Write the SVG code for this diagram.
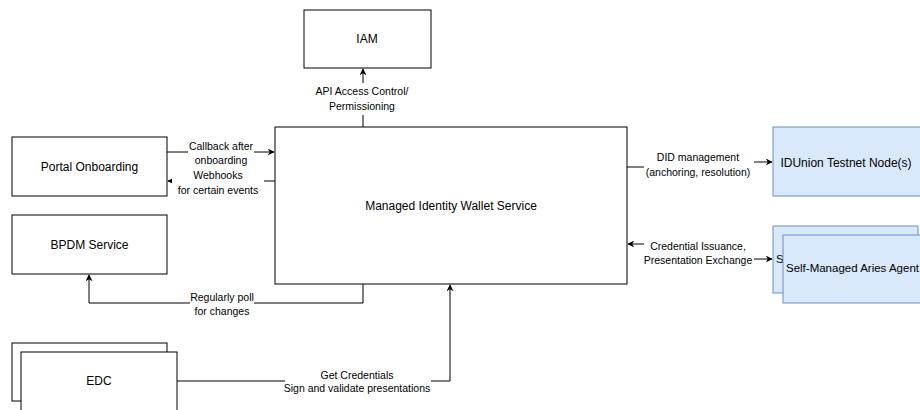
<svg xmlns="http://www.w3.org/2000/svg" width="920" height="410" viewBox="0 0 920 410">
<defs>
<marker id="arr" viewBox="0 0 10 10" refX="9" refY="5" markerWidth="7" markerHeight="7" markerUnits="userSpaceOnUse" orient="auto-start-reverse">
<path d="M0,0 L10,5 L0,10 L3,5 Z" fill="#000"/>
</marker>
<clipPath id="backclip"><rect x="773" y="226" width="10" height="67"/></clipPath>
<style>
.box{fill:#fff;stroke:#000;stroke-width:1}
.blue{fill:#dae8fc;stroke:#6c8ebf;stroke-width:1}
.t{font-family:"Liberation Sans",Arial,sans-serif;font-size:12px;fill:#000;text-anchor:middle;dominant-baseline:central}
.l{font-family:"Liberation Sans",Arial,sans-serif;font-size:10.5px;fill:#000;text-anchor:middle;dominant-baseline:central}
.c{fill:none;stroke:#000;stroke-width:1}
.bg{fill:#fff}
</style>
</defs>
<rect width="920" height="410" fill="#fff"/>

<g id="connectors">
<path class="c" d="M363,127 V69" marker-end="url(#arr)"/>
<path class="c" d="M167,152 H274" marker-end="url(#arr)"/>
<path class="c" d="M275,181 H168" marker-end="url(#arr)"/>
<path class="c" d="M363,284 V303 H89 V275" marker-end="url(#arr)"/>
<path class="c" d="M177,381 H450 V285" marker-end="url(#arr)"/>
<path class="c" d="M627,167 H700 V162 H772" marker-end="url(#arr)"/>
<path class="c" d="M628,244 H700 V259 H772" marker-start="url(#arr)" marker-end="url(#arr)"/>
</g>

<g id="labels">
<rect class="bg" x="315" y="83" width="96" height="32"/>
<text class="l" x="362" y="91">API Access Control/</text>
<text class="l" x="362" y="106">Permissioning</text>
<rect class="bg" x="188" y="140" width="66" height="26"/>
<text class="l" x="221" y="146">Callback after</text>
<text class="l" x="221" y="160">onboarding</text>
<rect class="bg" x="172" y="167" width="92" height="30"/>
<text class="l" x="218" y="175">Webhooks</text>
<text class="l" x="218" y="190">for certain events</text>
<rect class="bg" x="190" y="290" width="64" height="28"/>
<text class="l" x="222" y="297">Regularly poll</text>
<text class="l" x="222" y="311">for changes</text>
<rect class="bg" x="285" y="368" width="146" height="26"/>
<text class="l" x="357" y="375">Get Credentials</text>
<text class="l" x="357" y="388">Sign and validate presentations</text>
<rect class="bg" x="644" y="150" width="110" height="30"/>
<text class="l" x="698" y="157">DID management</text>
<text class="l" x="698" y="172">(anchoring, resolution)</text>
<rect class="bg" x="644" y="238" width="110" height="29"/>
<text class="l" x="698" y="246">Credential Issuance,</text>
<text class="l" x="698" y="260">Presentation Exchange</text>
</g>

<g id="iam">
<rect class="box" x="304" y="10" width="127" height="58"/>
<text class="t" x="367" y="39">IAM</text>
</g>

<g id="portal-onboarding">
<rect class="box" x="12" y="137" width="155" height="59"/>
<text class="t" x="89.5" y="167">Portal Onboarding</text>
</g>

<g id="bpdm-service">
<rect class="box" x="12" y="215" width="155" height="59"/>
<text class="t" x="89.5" y="245">BPDM Service</text>
</g>

<g id="managed-identity-wallet">
<rect class="box" x="275" y="127" width="352" height="157"/>
<text class="t" x="451" y="206">Managed Identity Wallet Service</text>
</g>

<g id="edc">
<rect class="box" x="12" y="343" width="155" height="58"/>
<rect class="box" x="21" y="352" width="156" height="60"/>
<text class="t" x="99" y="381">EDC</text>
</g>

<g id="idunion-testnet-nodes">
<rect class="blue" x="773" y="127" width="150" height="69"/>
<text class="t" x="846" y="163">IDUnion Testnet Node(s)</text>
</g>

<g id="self-managed-aries-agent">
<rect class="blue" x="773" y="226" width="145" height="67"/>
<text class="t" x="776" y="259" style="text-anchor:start;font-size:11.5px" clip-path="url(#backclip)">S</text>
<rect class="blue" x="783" y="235" width="145" height="68"/>
<text class="t" x="786" y="268" style="text-anchor:start;font-size:11.5px">Self-Managed Aries Agent</text>
</g>
</svg>
